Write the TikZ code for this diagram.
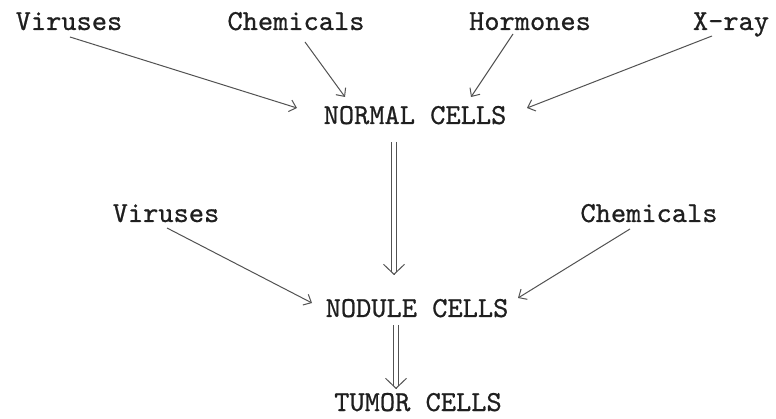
\documentclass[tikz,border=0pt]{standalone}
\usepackage{fontspec}
\newfontfamily\twfont{lmmono10-regular.otf}[FakeBold=0.7]
\usetikzlibrary{arrows.meta,calc}
\begin{document}
\begin{tikzpicture}[x=1pt,y=-1pt,
  lbl/.style={font=\twfont\fontsize{29}{30}\selectfont, text=black!88, inner sep=0pt, anchor=base},
  arr/.style={draw=black!68, line width=1pt, -{Straight Barb[length=6.5pt,width=12pt,line width=1pt]}},
  dbl/.style={draw=black!68, line width=1pt, double=white, double distance=3.6pt},
  dtip/.style={draw=black!68, line width=1pt, -{Straight Barb[length=10pt,width=21pt,line width=1pt]}}]
\useasboundingbox[fill=white] (0,0) rectangle (776,419);
% labels
\node[lbl] (v1) at (69,30) {Viruses};
\node[lbl] (c1) at (296,30) {Chemicals};
\node[lbl] (h1) at (530,30) {Hormones};
\node[lbl] (x1) at (731,30) {X-ray};
\node[lbl] (normal) at (415,124) {NORMAL CELLS};
\node[lbl] (v2) at (166,222) {Viruses};
\node[lbl] (c2) at (649,222) {Chemicals};
\node[lbl] (nodule) at (417,317) {NODULE CELLS};
\node[lbl] (tumor) at (418,411) {TUMOR CELLS};
% arrow ends
\coordinate (v1s) at ($(v1.base)+(1,7)$);
\coordinate (v1e) at ($(normal.base)+(-118,-16)$);
\coordinate (c1s) at ($(c1.base)+(9,12)$);
\coordinate (c1e) at ($(normal.base)+(-70,-27)$);
\coordinate (h1s) at ($(h1.base)+(-17,4)$);
\coordinate (h1e) at ($(normal.base)+(56,-27)$);
\coordinate (x1s) at ($(x1.base)+(-19,6)$);
\coordinate (x1e) at ($(normal.base)+(112,-16)$);
\coordinate (v2s) at ($(v2.base)+(1,6)$);
\coordinate (v2e) at ($(nodule.base)+(-105,-14)$);
\coordinate (c2s) at ($(c2.base)+(-19,7)$);
\coordinate (c2e) at ($(nodule.base)+(101,-19)$);
\coordinate (d1s) at (394,142);
\coordinate (d1e) at (394,275);
\coordinate (d2s) at (396,325);
\coordinate (d2e) at (396,389);
% connectors
\draw[arr] (v1s) -- (v1e);
\draw[arr] (c1s) -- (c1e);
\draw[arr] (h1s) -- (h1e);
\draw[arr] (x1s) -- (x1e);
\draw[arr] (v2s) -- (v2e);
\draw[arr] (c2s) -- (c2e);
% double arrows
\draw[dbl] (d1s) -- ($(d1e)+(0,-3)$);
\draw[dtip] ($(d1e)+(0,-1)$) -- (d1e);
\draw[dbl] (d2s) -- ($(d2e)+(0,-3)$);
\draw[dtip] ($(d2e)+(0,-1)$) -- (d2e);
\end{tikzpicture}
\end{document}
